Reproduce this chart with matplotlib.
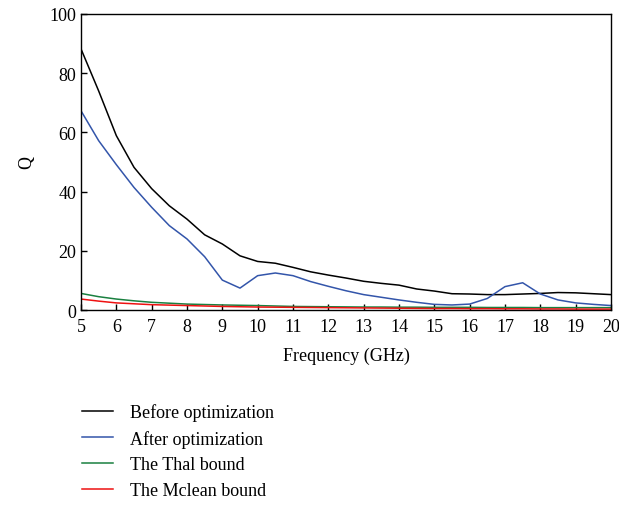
import matplotlib
matplotlib.use("Agg")
import matplotlib.pyplot as plt

plt.rcParams['font.family'] = ['Liberation Serif', 'DejaVu Serif']

freq = [5, 5.5, 6, 6.5, 7, 7.5, 8, 8.5, 9, 9.5, 10, 10.5, 11, 11.5, 12, 12.5, 13, 13.5,
        14, 14.5, 15, 15.5, 16, 16.5, 17, 17.5, 18, 18.5, 19, 19.5, 20]
before = [88.2, 74, 58.9, 48.2, 41, 35.2, 30.7, 25.4, 22.3, 18.3, 16.4, 15.8, 14.4, 12.9,
          11.8, 10.8, 9.7, 9.0, 8.4, 7.1, 6.4, 5.5, 5.4, 5.2, 5.2, 5.4, 5.6, 5.9, 5.8, 5.5, 5.2]
after = [67.3, 57.2, 49.1, 41.4, 34.7, 28.5, 24, 18, 10.1, 7.4, 11.6, 12.5, 11.6, 9.6,
         8.0, 6.5, 5.2, 4.3, 3.4, 2.6, 1.9, 1.7, 2.0, 3.9, 7.9, 9.2, 5.4, 3.4, 2.4, 1.9, 1.5]
thal = [5.6, 4.5, 3.7, 3.1, 2.6, 2.3, 2.0, 1.85, 1.7, 1.6, 1.5, 1.35, 1.2, 1.15, 1.1, 1.05,
        1.0, 1.0, 0.95, 0.95, 0.9, 0.9, 0.9, 0.85, 0.85, 0.85, 0.8, 0.8, 0.8, 0.8, 0.8]
mclean = [3.7, 3.0, 2.4, 2.1, 1.8, 1.65, 1.5, 1.35, 1.2, 1.1, 1.0, 0.95, 0.9, 0.85, 0.8, 0.75,
          0.7, 0.65, 0.6, 0.55, 0.5, 0.5, 0.45, 0.45, 0.4, 0.4, 0.35, 0.35, 0.3, 0.3, 0.3]

labels = ["Before optimization", "After optimization", "The Thal bound", "The Mclean bound"]
colors = ["#000000", "#3355aa", "#1a8040", "#ee1111"]
series = [before, after, thal, mclean]

fig = plt.figure(figsize=(6.19, 5.06), dpi=100)
ax = fig.add_axes([81/619, 1-311/506, 530/619, 296/506])

handles = []
for s, c, l in zip(series, colors, labels):
    h, = ax.plot(freq, s, color=c, lw=1.1, label=l)
    handles.append(h)

ax.set_xlim(5, 20)
ax.set_ylim(0, 100)
ax.set_xticks(range(5, 21))
ax.set_yticks(range(0, 101, 20))
ax.tick_params(direction='in', labelsize=13, length=4, width=1, top=False, right=False)
ax.tick_params(axis='x', pad=6)
for sp in ax.spines.values():
    sp.set_linewidth(1.0)
ax.set_xlabel("Frequency (GHz)", fontsize=13, labelpad=8)
ax.set_ylabel("Q", fontsize=13, labelpad=10)

fig.legend(handles=handles, labels=labels, loc='upper left',
           bbox_to_anchor=(75/619, 1-397/506), frameon=False, fontsize=13,
           handlelength=1.7, handletextpad=0.95, labelspacing=0.48, borderaxespad=0)

fig.savefig("out.png", dpi=100)
